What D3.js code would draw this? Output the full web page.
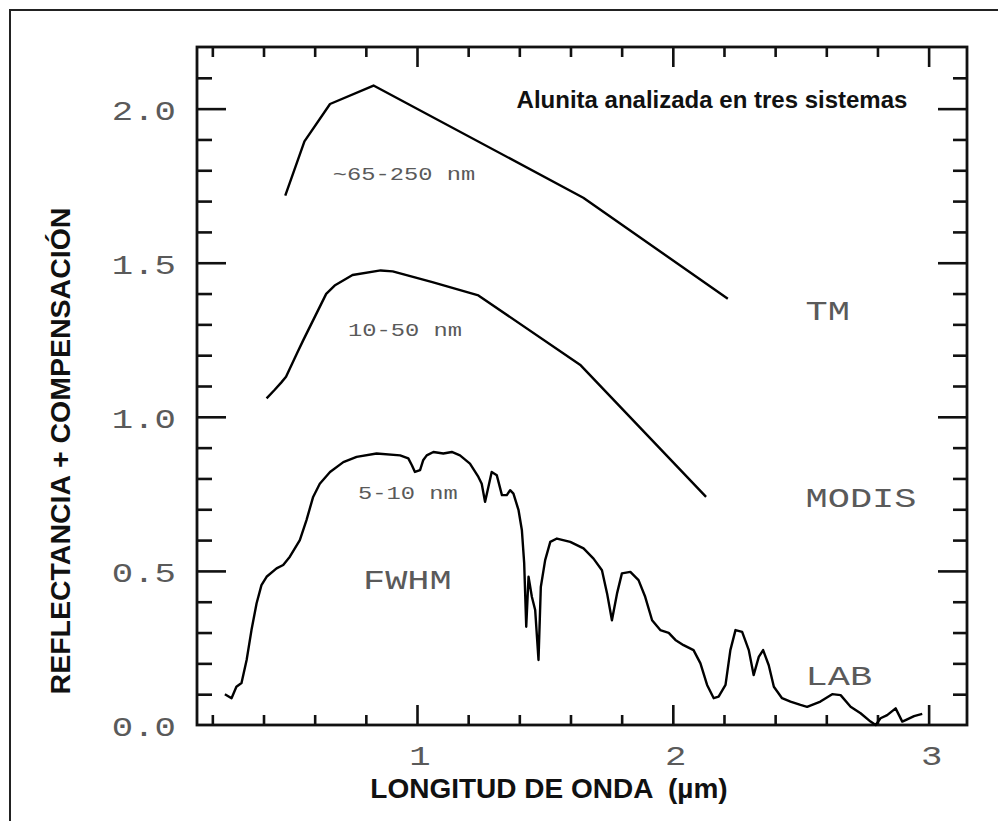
<!DOCTYPE html>
<html lang="es">
<head>
<meta charset="UTF-8">
<title>Alunita analizada en tres sistemas</title>
<script src="https://d3js.org/d3.v7.min.js"></script>
<style>
    body { margin: 0; background: #fff; }
    .plotter { font-family: "Liberation Mono", "DejaVu Sans Mono", monospace; fill: #5a5a5a; }
    .bold { font-family: "Liberation Sans", Arial, sans-serif; font-weight: bold; fill: #111; }
</style>
</head>
<body>
<svg width="998" height="821"></svg>
<script>
    // LAB spectrum (wavelength um, reflectance + offset)
    const labX = [0.249, 0.275, 0.294, 0.314, 0.334, 0.353, 0.373, 0.392, 0.412, 0.451, 0.477, 0.503, 0.542, 0.568, 0.594, 0.620, 0.660, 0.712, 0.764, 0.842, 0.934, 0.966, 0.980, 0.992, 1.012, 1.024, 1.038, 1.064, 1.103, 1.136, 1.168, 1.207, 1.240, 1.253, 1.266, 1.279, 1.292, 1.312, 1.332, 1.351, 1.364, 1.377, 1.397, 1.410, 1.419, 1.427, 1.436, 1.449, 1.462, 1.475, 1.484, 1.501, 1.521, 1.547, 1.599, 1.651, 1.690, 1.723, 1.743, 1.762, 1.782, 1.801, 1.834, 1.866, 1.892, 1.919, 1.951, 1.984, 2.010, 2.042, 2.081, 2.108, 2.134, 2.160, 2.179, 2.206, 2.225, 2.245, 2.271, 2.297, 2.316, 2.336, 2.353, 2.375, 2.395, 2.427, 2.460, 2.499, 2.525, 2.577, 2.623, 2.656, 2.695, 2.734, 2.773, 2.793, 2.812, 2.838, 2.871, 2.897, 2.910, 2.943, 2.975];
    const labY = [0.100, 0.087, 0.124, 0.136, 0.211, 0.308, 0.395, 0.454, 0.481, 0.508, 0.519, 0.546, 0.600, 0.665, 0.740, 0.783, 0.821, 0.853, 0.870, 0.881, 0.875, 0.865, 0.843, 0.821, 0.827, 0.859, 0.875, 0.886, 0.881, 0.886, 0.875, 0.848, 0.805, 0.783, 0.724, 0.772, 0.821, 0.810, 0.746, 0.746, 0.762, 0.751, 0.697, 0.632, 0.525, 0.319, 0.481, 0.416, 0.373, 0.211, 0.448, 0.535, 0.594, 0.605, 0.594, 0.573, 0.540, 0.502, 0.427, 0.340, 0.427, 0.492, 0.497, 0.470, 0.416, 0.340, 0.308, 0.299, 0.276, 0.259, 0.243, 0.200, 0.130, 0.087, 0.092, 0.130, 0.243, 0.308, 0.302, 0.243, 0.162, 0.221, 0.243, 0.194, 0.124, 0.087, 0.076, 0.065, 0.059, 0.076, 0.100, 0.097, 0.059, 0.038, 0.011, 0.000, 0.022, 0.032, 0.054, 0.011, 0.016, 0.029, 0.036];

    // MODIS bands
    const modisX = [0.412, 0.443, 0.469, 0.488, 0.531, 0.555, 0.645, 0.678, 0.748, 0.858, 0.905, 1.060, 1.240, 1.640, 2.130];
    const modisY = [1.060, 1.087, 1.111, 1.130, 1.206, 1.248, 1.399, 1.426, 1.460, 1.475, 1.472, 1.437, 1.394, 1.167, 0.740];

    // Landsat TM bands
    const tmX = [0.485, 0.560, 0.660, 0.830, 1.650, 2.215];
    const tmY = [1.718, 1.894, 2.015, 2.075, 1.711, 1.383];

    const yTickLabels = ["0.0", "0.5", "1.0", "1.5", "2.0"];
    const xTickLabels = ["1", "2", "3"];

    // curve annotations: text, x (um), y (baseline)
    const bigNotes = [["TM", 2.519, 1.313], ["MODIS", 2.519, 0.707], ["LAB", 2.519, 0.130], ["FWHM", 0.789, 0.441]];
    const smallNotes = [["~65-250 nm", 0.671, 1.770], ["10-50 nm", 0.730, 1.261], ["5-10 nm", 0.769, 0.733]];

    const svg = d3.select("svg");
    const pLeft = 197, pTop = 47, pRight = 967, pBottom = 725;

    const x = d3.scaleLinear().domain([0.14, 3.15]).range([pLeft, pRight]);
    const y = d3.scaleLinear().domain([0, 2.2]).range([pBottom, pTop]);

    // outer frame (cropped figure: only top and left visible)
    svg.append("path")
        .attr("d", "M10,821 V10 H998")
        .attr("fill", "none").attr("stroke", "#222").attr("stroke-width", 2);

    // ticks
    const xMinor = d3.range(0.2, 3.01, 0.2).filter(v => Math.abs(v - Math.round(v)) > 0.01);
    const xMajor = [1, 2, 3];
    const yMinor = d3.range(0.1, 2.11, 0.1).filter(v => Math.abs(v * 2 - Math.round(v * 2)) > 0.01);
    const yMajor = [0.5, 1.0, 1.5, 2.0];

    function tickAxis(axis, vals, size, tx, ty) {
        const g = svg.append("g")
            .attr("transform", `translate(${tx},${ty})`)
            .call(axis.tickValues(vals).tickSize(size).tickFormat(""));
        g.select(".domain").remove();
        g.selectAll("line").attr("stroke", "#111").attr("stroke-width", 2.6);
    }
    tickAxis(d3.axisBottom(x), xMinor, -10, 0, pBottom);
    tickAxis(d3.axisBottom(x), xMajor, -20, 0, pBottom);
    tickAxis(d3.axisTop(x), xMinor, -10, 0, pTop);
    tickAxis(d3.axisTop(x), xMajor, -20, 0, pTop);
    tickAxis(d3.axisLeft(y), yMinor, -15, pLeft, 0);
    tickAxis(d3.axisLeft(y), yMajor, -29, pLeft, 0);
    tickAxis(d3.axisRight(y), yMinor, -14, pRight, 0);
    tickAxis(d3.axisRight(y), yMajor, -29, pRight, 0);

    // plot box
    svg.append("rect")
        .attr("x", pLeft).attr("y", pTop)
        .attr("width", pRight - pLeft).attr("height", pBottom - pTop)
        .attr("fill", "none").attr("stroke", "#111").attr("stroke-width", 2.8);

    // wide plotter-style text
    function plotText(str, px, py, size, anchor) {
        svg.append("text")
            .attr("class", "plotter")
            .attr("transform", `translate(${px},${py}) scale(1.32,1)`)
            .attr("font-size", size)
            .attr("text-anchor", anchor)
            .text(str);
    }

    yTickLabels.forEach(t => plotText(t, 176, y(+t) + 11, 27, "end"));
    xTickLabels.forEach(t => plotText(t, x(+t) + 3, 765, 27, "middle"));
    bigNotes.forEach(d => plotText(d[0], x(d[1]), y(d[2]), 28, "start"));
    smallNotes.forEach(d => plotText(d[0], x(d[1]), y(d[2]), 18, "start"));

    // curves
    const line = d3.line().x(d => x(d[0])).y(d => y(d[1]));
    [[tmX, tmY], [modisX, modisY], [labX, labY]].forEach(s => {
        svg.append("path")
            .datum(d3.zip(s[0], s[1]))
            .attr("d", line)
            .attr("fill", "none")
            .attr("stroke", "#000")
            .attr("stroke-width", 2.4)
            .attr("stroke-linejoin", "round");
    });

    // titles
    svg.append("text").attr("class", "bold")
        .attr("x", 712).attr("y", 108)
        .attr("text-anchor", "middle").attr("font-size", 24)
        .text("Alunita analizada en tres sistemas");

    svg.append("text").attr("class", "bold")
        .attr("x", 549).attr("y", 798)
        .attr("text-anchor", "middle").attr("font-size", 28)
        .attr("xml:space", "preserve")
        .text("LONGITUD DE ONDA  (µm)");

    svg.append("text").attr("class", "bold")
        .attr("transform", "translate(70,451) rotate(-90)")
        .attr("text-anchor", "middle").attr("font-size", 28.5)
        .text("REFLECTANCIA + COMPENSACIÓN");
</script>
</body>
</html>
